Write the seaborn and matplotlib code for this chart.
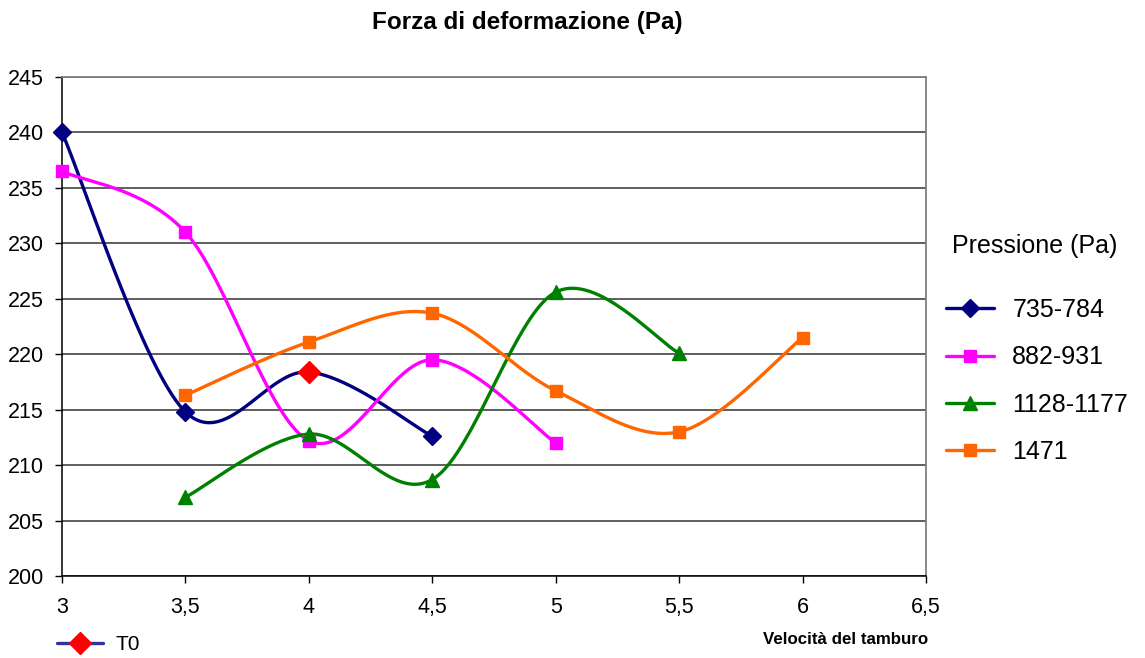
import numpy as np
import pandas as pd
import matplotlib
matplotlib.use("Agg")
import matplotlib.pyplot as plt
from matplotlib.lines import Line2D
import seaborn as sns

# Drum speed (x) and deformation force in Pa (y), one series per pressure range
vel_735 = [3.0, 3.5, 4.0, 4.5]
forza_735 = [240.0, 214.8, 218.4, 212.6]

vel_882 = [3.0, 3.5, 4.0, 4.5, 5.0]
forza_882 = [236.5, 231.0, 212.2, 219.5, 212.0]

vel_1128 = [3.5, 4.0, 4.5, 5.0, 5.5]
forza_1128 = [207.1, 212.8, 208.7, 225.6, 220.1]

vel_1471 = [3.5, 4.0, 4.5, 5.0, 5.5, 6.0]
forza_1471 = [216.3, 221.1, 223.7, 216.7, 213.0, 221.5]

# Reference point T0
vel_t0 = [4.0]
forza_t0 = [218.4]

x_ticks = [3.0, 3.5, 4.0, 4.5, 5.0, 5.5, 6.0, 6.5]
x_tick_labels = ["3", "3,5", "4", "4,5", "5", "5,5", "6", "6,5"]
y_ticks = [200, 205, 210, 215, 220, 225, 230, 235, 240, 245]

series = [
    ("735-784", vel_735, forza_735, "#000080", "D", 9),
    ("882-931", vel_882, forza_882, "#FF00FF", "s", 9),
    ("1128-1177", vel_1128, forza_1128, "#008000", "^", 10),
    ("1471", vel_1471, forza_1471, "#FF6600", "s", 9),
]


def smooth(xs, ys, n=40):
    """Catmull-Rom curve through the points (spreadsheet-style smoothed line)."""
    p = np.column_stack([xs, ys]).astype(float)
    if len(p) < 3:
        return p[:, 0], p[:, 1]
    ext = np.vstack([p[0], p, p[-1]])
    out = []
    t = np.linspace(0, 1, n)[:, None]
    for i in range(1, len(ext) - 2):
        p0, p1, p2, p3 = ext[i - 1], ext[i], ext[i + 1], ext[i + 2]
        c1 = p1 + (p2 - p0) / 6.0
        c2 = p2 - (p3 - p1) / 6.0
        seg = ((1 - t) ** 3) * p1 + 3 * ((1 - t) ** 2) * t * c1 \
            + 3 * (1 - t) * t ** 2 * c2 + t ** 3 * p2
        out.append(seg if i == 1 else seg[1:])
    curve = np.vstack(out)
    return curve[:, 0], curve[:, 1]


sns.set_theme(style="white")
plt.rcParams["font.family"] = ["Liberation Sans", "DejaVu Sans"]
plt.rcParams["text.color"] = "black"
plt.rcParams["xtick.color"] = "black"
plt.rcParams["ytick.color"] = "black"
plt.rcParams["axes.labelcolor"] = "black"

fig = plt.figure(figsize=(11.45, 6.58), dpi=100)
ax = fig.add_axes([62 / 1145, 82 / 658, 864 / 1145, 499 / 658])

for name, xs, ys, color, marker, ms in series:
    cx, cy = smooth(xs, ys)
    curve = pd.DataFrame({"x": cx, "y": cy})
    sns.lineplot(data=curve, x="x", y="y", sort=False, estimator=None,
                 color=color, lw=2.4, ax=ax, zorder=3)
    pts = pd.DataFrame({"x": xs, "y": ys})
    ax.plot(pts["x"], pts["y"], ls="none", marker=marker, ms=ms,
            color=color, mec=color, zorder=4, clip_on=False)

t0 = pd.DataFrame({"x": vel_t0, "y": forza_t0})
ax.plot(t0["x"], t0["y"], ls="none", marker="D", ms=11, color="#FF0000",
        mec="#FF0000", zorder=5)

ax.set_xlim(3, 6.5)
ax.set_ylim(200, 245)
ax.set_xticks(x_ticks)
ax.set_xticklabels(x_tick_labels)
ax.set_yticks(y_ticks)
ax.set_xlabel("")
ax.set_ylabel("")
ax.yaxis.grid(True, color="#333333", lw=1.1)
ax.xaxis.grid(False)
ax.set_axisbelow(True)

for side in ("left", "bottom"):
    ax.spines[side].set_color("black")
    ax.spines[side].set_linewidth(1.1)
for side in ("top", "right"):
    ax.spines[side].set_color("#808080")
    ax.spines[side].set_linewidth(1.3)

ax.tick_params(axis="x", which="both", bottom=True, direction="out",
               length=5, width=1, color="black", labelsize=15.5, pad=10)
ax.tick_params(axis="y", which="both", left=True, direction="out",
               length=5, width=1, color="black", labelsize=15.5, pad=8)

fig.text(527 / 1145, 1 - 22 / 658, "Forza di deformazione (Pa)",
         ha="center", va="center", fontsize=17.5, fontweight="bold")
fig.text(846 / 1145, 1 - 639 / 658, "Velocità del tamburo",
         ha="center", va="center", fontsize=12.2, fontweight="bold")

# Pressure legend on the right
fig.text(952 / 1145, 1 - 246 / 658, "Pressione (Pa)", ha="left", va="center",
         fontsize=18)
handles = [Line2D([], [], color=c, lw=2.4, marker=m, ms=s, mec=c)
           for _, _, _, c, m, s in series]
labels = [s[0] for s in series]
fig.legend(handles, labels, loc="upper left",
           bbox_to_anchor=(946 / 1145, 1 - 298 / 658), frameon=False,
           fontsize=18, handlelength=1.9, handletextpad=0.75,
           labelspacing=0.93, borderpad=0, borderaxespad=0)

# T0 legend at the bottom left
t0_handle = Line2D([], [], color="#333399", lw=2.4, marker="D", ms=11,
                   mfc="#FF0000", mec="#FF0000")
fig.legend([t0_handle], ["T0"], loc="center left",
           bbox_to_anchor=(57 / 1145, 1 - 645 / 658), frameon=False,
           fontsize=15, handlelength=2.2, handletextpad=0.6,
           borderpad=0, borderaxespad=0)

fig.savefig("out.png", dpi=100)
